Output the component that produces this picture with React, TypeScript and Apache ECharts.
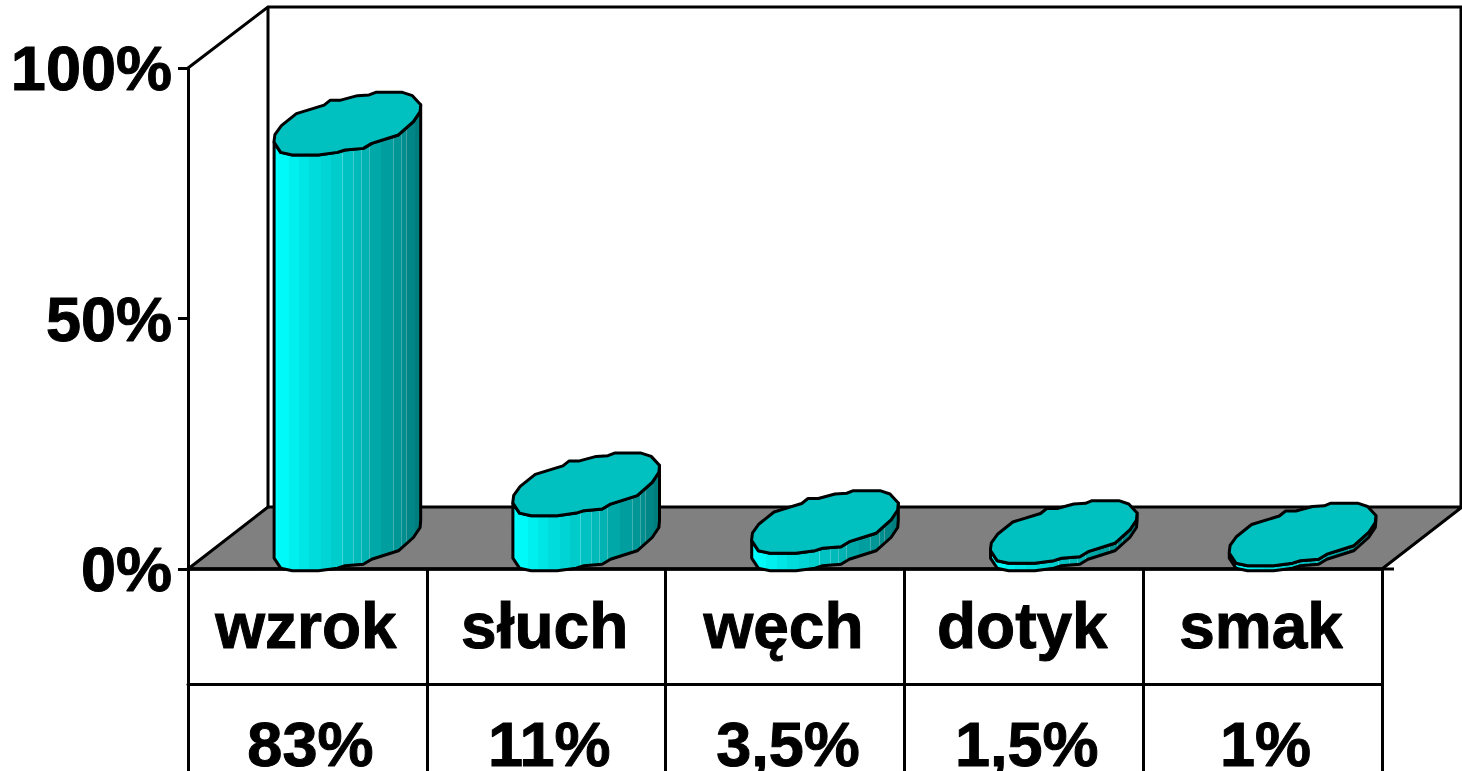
import React, { useEffect, useRef } from "react";
import * as echarts from "echarts";

const categories = ["wzrok", "słuch", "węch", "dotyk", "smak"];
const values = [83, 11, 3.5, 1.5, 1];
const valueLabels = ["83%", "11%", "3,5%", "1,5%", "1%"];
const yTicks = [0, 50, 100];

const FONT = '"Liberation Sans", Arial, sans-serif';
const LEFT = 188, RIGHT = 1382, TOP = 68, BOTTOM = 569;
const DX = 80, DY = -62;
const CENTER_SHIFT = 1.5;
const TOP_ELLIPSE: number[][] = [
  [-73.3, 17], [-72.5, 11], [-66, 2], [-51, -10], [-23.3, -18.5], [-17, -23.5], [-6.7, -23.5], [10, -28], [21.7, -28.7],
  [28.3, -31.3], [55, -31.3], [65, -28], [73.3, -19],
  [72.7, -12], [66, -2], [51, 11.3], [24.3, 19.7], [16, 24.7], [-2.3, 26.3], [-10, 28.7], [-29, 31.3], [-55, 31.3], [-66.7, 28.7], [-73.3, 18.7],
];
const LOWER_HALF = TOP_ELLIPSE.slice(12).reverse(); // left -> right along the front edge

const BANDS: [number, string][] = [
  [0.03, "#00ffff"], [0.1, "#00fafa"], [0.17, "#00f0f0"], [0.24, "#00e6e6"], [0.32, "#00dcdc"], [0.39, "#00d4d4"],
  [0.46, "#00cccc"], [0.467, "#40d8d8"], [0.535, "#00c2c2"], [0.542, "#40cccc"], [0.59, "#00baba"], [0.597, "#40c6c6"],
  [0.645, "#00b2b2"], [0.652, "#40bebe"], [0.73, "#00a8a8"], [0.81, "#009e9e"], [0.817, "#40b0b0"], [0.865, "#009696"],
  [0.872, "#40a8a8"], [0.9, "#008e8e"], [0.907, "#40a0a0"], [0.96, "#008686"], [1, "#007e7e"],
];
const bandStops = () => {
  const stops: { offset: number; color: string }[] = [];
  let prev = 0;
  BANDS.forEach(([end, color]) => {
    stops.push({ offset: prev, color }, { offset: end, color });
    prev = end;
  });
  return stops;
};

const renderCylinder = (params: any, api: any) => {
  const p = api.coord([api.value(0), api.value(1)]);
  const base = api.coord([api.value(0), 0]);
  const cx = p[0] + DX / 2;
  const topY = p[1] + DY / 2 + CENTER_SHIFT;
  const baseY = base[1] + DY / 2 + CENTER_SHIFT;
  const front = LOWER_HALF.map(([x, y]) => [cx + x, baseY + y]);
  const back = LOWER_HALF.map(([x, y]) => [cx + x, topY + y]).reverse();
  const lineStyle = { stroke: "#000", lineWidth: 3, lineJoin: "round" };
  return {
    type: "group",
    children: [
      {
        type: "polygon",
        shape: { points: [...front, ...back] },
        style: {
          ...lineStyle,
          fill: new echarts.graphic.LinearGradient(0, 0, 1, 0, bandStops()),
        },
      },
      {
        type: "polygon",
        shape: { points: TOP_ELLIPSE.map(([x, y]) => [cx + x, topY + y]) },
        style: { ...lineStyle, fill: "#00c0c0" },
      },
    ],
  };
};

export default function App() {
  const ref = useRef<HTMLDivElement>(null);
  useEffect(() => {
    const chart = echarts.init(ref.current!, undefined, { renderer: "svg" });
    const line = { stroke: "#000", lineWidth: 3 };
    const bold = { color: "#000", fontFamily: FONT, fontWeight: "bold", textBorderColor: "#000", textBorderWidth: 1 };
    chart.setOption({
      animation: false,
      backgroundColor: "#fff",
      grid: {
        left: LEFT,
        right: 1462 - RIGHT,
        top: TOP,
        bottom: 771 - BOTTOM,
        containLabel: false,
        outerBoundsMode: "none",
      },
      graphic: [
        {
          type: "polygon",
          shape: { points: [[LEFT, BOTTOM], [LEFT + DX, BOTTOM + DY], [RIGHT + DX, BOTTOM + DY], [RIGHT, BOTTOM]] },
          style: { fill: "#808080", stroke: "#000", lineWidth: 3 },
        },
        { type: "polyline", shape: { points: [[LEFT, TOP], [LEFT + DX, 7], [1461, 7], [1461, BOTTOM + DY]] }, style: { ...line, fill: "none" } },
        { type: "line", shape: { x1: LEFT + DX, y1: 7, x2: LEFT + DX, y2: BOTTOM + DY }, style: line },
        { type: "line", shape: { x1: RIGHT, y1: BOTTOM, x2: RIGHT + 12, y2: BOTTOM }, style: line },
      ],
      xAxis: [
        {
          type: "category",
          data: categories,
          boundaryGap: true,
          axisLine: { show: true, lineStyle: { color: "#000", width: 3.5 } },
          axisTick: { show: true, length: 202, lineStyle: { color: "#000", width: 3 } },
          axisLabel: { ...bold, fontSize: 64, lineHeight: 70, margin: 22, interval: 0, padding: [0, 3, 0, 0] },
        },
        {
          type: "category",
          position: "bottom",
          offset: 115,
          data: valueLabels,
          boundaryGap: true,
          axisLine: { show: true, lineStyle: { color: "#000", width: 3 } },
          axisTick: { show: false },
          axisLabel: { ...bold, fontSize: 63, lineHeight: 50, margin: 35, interval: 0, padding: [0, 0, 0, 6] },
        },
      ],
      yAxis: {
        type: "value",
        min: yTicks[0],
        max: yTicks[2],
        interval: yTicks[1],
        axisLine: { show: true, lineStyle: { color: "#000", width: 3 } },
        axisTick: { show: true, length: 10, lineStyle: { color: "#000", width: 3 } },
        splitLine: { show: false },
        axisLabel: { ...bold, fontSize: 63, margin: 16, formatter: "{value}%" },
      },
      series: [
        {
          type: "custom",
          xAxisIndex: 0,
          clip: false,
          z: 5,
          data: values.map((v, i) => [i, v]),
          encode: { x: 0, y: 1 },
          renderItem: renderCylinder,
        },
      ],
    });
    return () => chart.dispose();
  }, []);
  return <div ref={ref} style={{ position: "fixed", left: 0, top: 0, width: 1462, height: 771 }} />;
}
